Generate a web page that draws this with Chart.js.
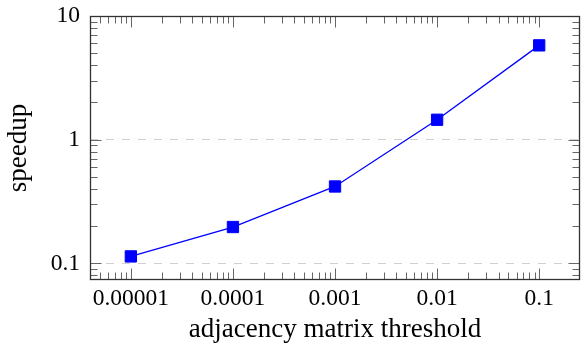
<!DOCTYPE html>
<html>
<head>
<meta charset="utf-8">
<script src="https://cdn.jsdelivr.net/npm/chart.js@4.4.0/dist/chart.umd.min.js"></script>
<style>
  html, body { margin: 0; padding: 0; background: #fff; }
  #wrap { width: 581px; height: 343px; position: relative; }
</style>
</head>
<body>
<div id="wrap"><canvas id="speedupChart"></canvas></div>
<script>
const thresholds = [0.00001, 0.0001, 0.001, 0.01, 0.1];
const speedups = [0.114, 0.197, 0.419, 1.45, 5.79];
const xTickLabels = ['0.00001', '0.0001', '0.001', '0.01', '0.1'];
const yTicks = [0.1, 1, 10];
const yTickLabels = ['0.1', '1', '10'];

// minor ticks like pgfplots: 2..9 of each decade, only up to the last major x tick
function minorTicks(fromExp, toExp, lo, hi) {
  const out = [];
  for (let e = fromExp; e <= toExp; e++) {
    for (let m = 2; m <= 9; m++) {
      const v = m * Math.pow(10, e);
      if (v > lo && v < hi) out.push(v);
    }
  }
  return out;
}

const xMin = 3.98e-6, xMax = 0.251;
const yMin = 0.0735, yMax = 10;

const frameTicks = {
  id: 'frameTicks',
  afterDraw(chart) {
    const ctx = chart.ctx;
    const a = chart.chartArea;
    const xs = chart.scales.x, ys = chart.scales.y;
    const L = Math.round(a.left) + 0.5, R = Math.round(a.right) - 0.5;
    const T = Math.round(a.top) + 0.5, B = Math.round(a.bottom) - 0.5;
    ctx.save();
    ctx.strokeStyle = '#666';
    ctx.lineWidth = 1;
    ctx.beginPath();
    const xTick = (v, len) => {
      const px = Math.round(xs.getPixelForValue(v)) + 0.5;
      ctx.moveTo(px, B); ctx.lineTo(px, B - len);
      ctx.moveTo(px, T); ctx.lineTo(px, T + len);
    };
    const yTick = (v, len) => {
      const py = Math.round(ys.getPixelForValue(v)) + 0.5;
      ctx.moveTo(L, py); ctx.lineTo(L + len, py);
      ctx.moveTo(R, py); ctx.lineTo(R - len, py);
    };
    minorTicks(-6, -2, xMin, thresholds[thresholds.length - 1]).forEach(v => xTick(v, 7));
    thresholds.forEach(v => xTick(v, 11));
    minorTicks(-2, 0, yMin, yMax).forEach(v => yTick(v, 7));
    yTicks.forEach(v => yTick(v, 11));
    ctx.stroke();

    ctx.strokeStyle = '#333';
    ctx.lineWidth = 1.3;
    ctx.strokeRect(L, T, R - L, B - T);
    ctx.restore();
  }
};

new Chart(document.getElementById('speedupChart'), {
  type: 'line',
  data: {
    datasets: [{
      data: thresholds.map((x, i) => ({ x: x, y: speedups[i] })),
      borderColor: '#0000ff',
      backgroundColor: '#0000ff',
      borderWidth: 1.3,
      pointStyle: 'rect',
      pointRadius: 8,
      pointBorderWidth: 1,
      pointBackgroundColor: '#0000ff',
      pointBorderColor: '#0000ff',
      tension: 0
    }]
  },
  options: {
    responsive: true,
    maintainAspectRatio: false,
    animation: false,
    layout: { autoPadding: false, padding: { top: 16, right: 1, left: 0, bottom: 0 } },
    plugins: { legend: { display: false }, tooltip: { enabled: false } },
    scales: {
      x: {
        type: 'logarithmic',
        min: xMin,
        max: xMax,
        afterBuildTicks: s => { s.ticks = thresholds.map(v => ({ value: v })); },
        afterFit: s => { s.height = 63; s.paddingLeft = 0; s.paddingRight = 0; },
        grid: { display: false, drawTicks: false },
        border: { display: false },
        ticks: {
          autoSkip: false,
          maxRotation: 0,
          padding: 5,
          color: '#000',
          font: { family: 'Liberation Serif', size: 23.5 },
          callback: (v, i) => xTickLabels[i]
        },
        title: {
          display: true,
          text: 'adjacency matrix threshold',
          color: '#000',
          font: { family: 'Liberation Serif', size: 27, lineHeight: 1 },
          padding: { top: 0, bottom: 0 }
        }
      },
      y: {
        type: 'logarithmic',
        min: yMin,
        max: yMax,
        afterBuildTicks: s => { s.ticks = yTicks.map(v => ({ value: v })); },
        afterFit: s => { s.width = 90; s.paddingTop = 0; s.paddingBottom = 0; },
        grid: { color: '#d0d0d0', lineWidth: 1, drawTicks: false },
        border: { display: false, dash: [8, 8] },
        ticks: {
          autoSkip: false,
          padding: 10,
          color: '#000',
          font: { family: 'Liberation Serif', size: 23.5 },
          callback: (v, i) => yTickLabels[i]
        },
        title: {
          display: true,
          text: 'speedup',
          color: '#000',
          font: { family: 'Liberation Serif', size: 27, lineHeight: 1 },
          padding: { top: 5, bottom: 0 }
        }
      }
    }
  },
  plugins: [frameTicks]
});
</script>
</body>
</html>
